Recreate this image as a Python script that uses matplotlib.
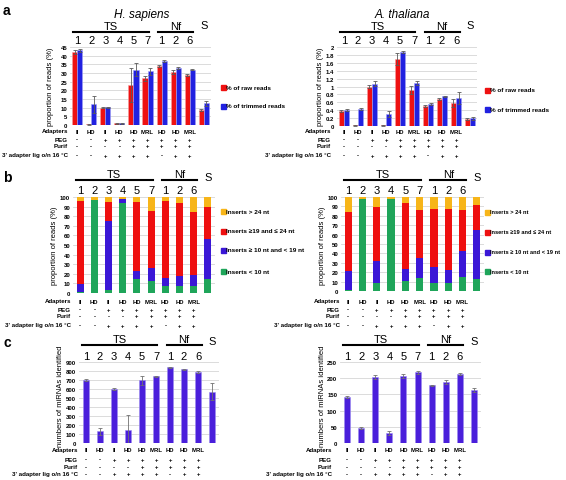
import numpy as np
import matplotlib
matplotlib.use('Agg')
import matplotlib.pyplot as plt
from matplotlib.transforms import blended_transform_factory
from matplotlib.lines import Line2D
from matplotlib.patches import Rectangle

plt.rcParams['font.family'] = ['Liberation Sans', 'DejaVu Sans']

W, H = 566, 481

# ---- data ----
groups = ['1', '2', '3', '4', '5', '7', '1', '2', '6', 'S']
adapters = ['ll', 'HD', 'll', 'HD', 'HD', 'MRL', 'HD', 'HD', 'MRL']
peg = ['-', '-', '+', '+', '+', '+', '+', '+', '+']
purif = ['-', '-', '-', '-', '+', '+', '+', '+', '+']
lig = ['-', '-', '+', '+', '+', '+', '-', '+', '+']
row_names = ['Adapters', 'PEG', 'Purif', "3' adapter lig o/n 16 °C"]

# a: proportion of reads (%)
hs_raw = [42, 0.5, 10, 1, 23, 27, 34, 30.5, 29, 8.5]
hs_raw_err = [1, 0.3, 0.3, 0.2, 10, 1.5, 0.5, 1, 0.5, 0.5]
hs_trim = [43, 12, 10.3, 1, 32, 31, 37, 33, 32, 12.5]
hs_trim_err = [1, 5, 0.3, 0.2, 4, 2, 0.5, 0.5, 0.5, 1.5]

at_raw = [0.38, 0.02, 1.0, 0.02, 1.7, 0.92, 0.5, 0.68, 0.58, 0.18]
at_raw_err = [0.02, 0.01, 0.04, 0.01, 0.15, 0.1, 0.02, 0.02, 0.1, 0.02]
at_trim = [0.4, 0.43, 1.07, 0.3, 1.87, 1.08, 0.55, 0.75, 0.7, 0.2]
at_trim_err = [0.02, 0.02, 0.06, 0.08, 0.03, 0.05, 0.02, 0.02, 0.15, 0.04]

# b: size classes (%)
hs_lt10 = [1, 97, 3, 94, 15, 12, 7, 7, 7, 15]
hs_10_19 = [8, 0, 72, 4, 8, 14, 9, 11, 12, 41]
hs_19_24 = [87, 0, 20, 0, 72, 59, 80, 76, 65, 34]
hs_gt24 = [4, 3, 5, 2, 5, 15, 4, 6, 16, 10]

at_lt10 = [1, 98, 8, 98, 11, 14, 8, 8, 15, 13]
at_10_19 = [20, 0, 24, 0, 12, 21, 18, 14, 28, 52]
at_19_24 = [63, 0, 57, 0, 71, 51, 61, 65, 43, 27]
at_gt24 = [16, 2, 11, 2, 6, 14, 13, 13, 14, 8]

# c: numbers of miRNAs identified
hs_mir = [700, 130, 600, 150, 700, 740, 840, 820, 785, 570]
hs_mir_err = [10, 40, 15, 165, 50, 5, 5, 5, 10, 95]
at_mir = [142, 46, 204, 32, 208, 218, 178, 188, 213, 163]
at_mir_err = [3, 2, 5, 6, 6, 4, 2, 7, 4, 7]

RED = '#ee1111'
BLUE = '#2121e0'
YEL = '#f7b519'
SRED = '#ee1010'
SBLUE = '#3a17d6'
GREEN = '#1fa55a'
CBLUE = '#4a1fdb'

fig = plt.figure(figsize=(W / 100, H / 100), dpi=100)


def fy(y):
    return 1 - y / H


def add_ax(l, t, r, b):
    return fig.add_axes([l / W, 1 - b / H, (r - l) / W, (b - t) / H])


def style(ax, ymax, step, labels):
    ax.set_xlim(-0.5, 9.5)
    ax.set_ylim(0, ymax)
    ticks = np.arange(0, ymax + step / 2, step)
    ax.set_yticks(ticks)
    ax.set_yticklabels(labels, fontsize=4.3, fontweight='bold')
    ax.set_xticks([])
    for s in ax.spines.values():
        s.set_visible(False)
    ax.tick_params(axis='y', length=0, pad=2)
    ax.yaxis.grid(True, color='#d6d6d6', lw=0.6)
    ax.set_axisbelow(True)


def header(ax, y_ts, y_line, y_num, y_s):
    bt = blended_transform_factory(ax.transData, fig.transFigure)
    ax.text(2.4, fy(y_ts), 'TS', transform=bt, ha='center', va='center', fontsize=8)
    ax.text(7.0, fy(y_ts), 'Nf', transform=bt, ha='center', va='center', fontsize=8)
    fig.add_artist(Line2D([-0.3, 5.1], [fy(y_line)] * 2, transform=bt, color='black', lw=1.5))
    fig.add_artist(Line2D([5.75, 8.25], [fy(y_line)] * 2, transform=bt, color='black', lw=1.5))
    for i, g in enumerate(groups[:9]):
        ax.text(i, fy(y_num), g, transform=bt, ha='center', va='center', fontsize=8)
    ax.text(9, fy(y_s), 'S', transform=bt, ha='center', va='center', fontsize=8)


def table(ax, rows_y, label_x):
    bt = blended_transform_factory(ax.transData, fig.transFigure)
    for name, vals, y in zip(row_names, [adapters, peg, purif, lig], rows_y):
        fig.text(label_x / W, fy(y), name, ha='right', va='center', fontsize=4.4, fontweight='bold')
        for i, v in enumerate(vals):
            ax.text(i, fy(y), v, transform=bt, ha='center', va='center', fontsize=4.3, fontweight='bold')


def legend(x, ys, colors, labels, fs=4.6):
    for y, c, lab in zip(ys, colors, labels):
        fig.add_artist(Rectangle(((x - 2.5) / W, fy(y + 2.5)), 5 / W, 5 / H, color=c, transform=fig.transFigure))
        fig.text((x + 3) / W, fy(y), lab, ha='left', va='center', fontsize=fs, fontweight='bold')


xs = np.arange(10)

# ---- panel a ----
bw = 0.36
ekw = dict(ecolor='#5a5a5a', elinewidth=0.6, capsize=1.3, capthick=0.6)
for (l, t, r, b), raw, rerr, trim, terr, ymax, step, labs in [
        ((70, 48, 211, 126), hs_raw, hs_raw_err, hs_trim, hs_trim_err, 45, 5,
         [str(v) for v in range(0, 46, 5)]),
        ((337, 48, 477, 127), at_raw, at_raw_err, at_trim, at_trim_err, 2, 0.2,
         ['0', '0.2', '0.4', '0.6', '0.8', '1', '1.2', '1.4', '1.6', '1.8', '2'])]:
    ax = add_ax(l, t, r, b)
    style(ax, ymax, step, labs)
    ax.bar(xs - bw / 2, raw, bw, color=RED, edgecolor='#f7a0a0', lw=0.4, yerr=rerr, error_kw=ekw)
    ax.bar(xs + bw / 2, trim, bw, color=BLUE, edgecolor='#a0a0f5', lw=0.4, yerr=terr, error_kw=ekw)
    header(ax, 27, 33, 41, 26)
    if l < 200:
        table(ax, [132, 140, 147, 156], 68)
        fig.text(50 / W, fy(87), 'proportion of reads (%)', rotation=90, ha='center', va='center', fontsize=5.5)
    else:
        table(ax, [132, 140, 147, 156], 331)
        fig.text(321 / W, fy(87), 'proportion of reads (%)', rotation=90, ha='center', va='center', fontsize=5.5)

fig.text(142 / W, fy(15), 'H. sapiens', ha='center', va='center', fontsize=8.5, style='italic')
fig.text(402 / W, fy(15), 'A. thaliana', ha='center', va='center', fontsize=8.5, style='italic')
legend(223, [88, 107], [RED, BLUE], ['% of raw reads', '% of trimmed reads'])
legend(487, [91, 110], [RED, BLUE], ['% of raw reads', '% of trimmed reads'])

# ---- panel b ----
sw = 0.5
for (l, t, r, b), segs, lx, ylx in [
        ((73, 198, 215, 294), [hs_lt10, hs_10_19, hs_19_24, hs_gt24], 71, 55),
        ((341, 198, 484, 292), [at_lt10, at_10_19, at_19_24, at_gt24], 340, 322)]:
    ax = add_ax(l, t, r, b)
    style(ax, 100, 10, [str(v) for v in range(0, 101, 10)])
    bottom = np.zeros(10)
    for vals, c in zip(segs, [GREEN, SBLUE, SRED, YEL]):
        ax.bar(xs, vals, sw, bottom=bottom, color=c, lw=0)
        bottom += np.array(vals)
    header(ax, 175, 181, 191, 178)
    table(ax, [302, 310, 317, 326], lx)
    fig.text(ylx / W, fy(246), 'proportion of reads (%)', rotation=90, ha='center', va='center', fontsize=5.5)

size_labels = ['Inserts > 24 nt', 'Inserts \u226519 and \u2264 24 nt',
               'Inserts \u2265 10 nt and < 19 nt', 'Inserts < 10 nt']
legend(223, [212, 232, 251, 272], [YEL, SRED, SBLUE, GREEN], size_labels)
legend(487, [213, 233, 253, 272], [YEL, SRED, SBLUE, GREEN], size_labels, fs=4.1)

# ---- panel c ----
cw = 0.42
for (l, t, r, b), vals, errs, ymax, step, lx, ylx in [
        ((79, 363, 219, 444), hs_mir, hs_mir_err, 900, 100, 78, 60),
        ((340, 363, 481, 444), at_mir, at_mir_err, 250, 50, 332, 322)]:
    ax = add_ax(l, t, r, b)
    style(ax, ymax, step, [str(v) for v in range(0, ymax + 1, step)])
    ax.bar(xs, vals, cw, color=CBLUE, edgecolor='#9c8cf0', lw=0.4, yerr=errs,
           error_kw=dict(ecolor='#707070', elinewidth=0.6, capsize=1.3, capthick=0.6))
    header(ax, 340, 346, 357, 342)
    table(ax, [451, 460, 468, 475], lx)
    fig.text(ylx / W, fy(396), 'numbers of miRNAs identified', rotation=90, ha='center', va='center', fontsize=5.5)

for lab, y in [('a', 11), ('b', 178), ('c', 343)]:
    fig.text(3 / W, fy(y), lab, ha='left', va='center', fontsize=10, fontweight='bold')

fig.savefig('out.png', dpi=100)
